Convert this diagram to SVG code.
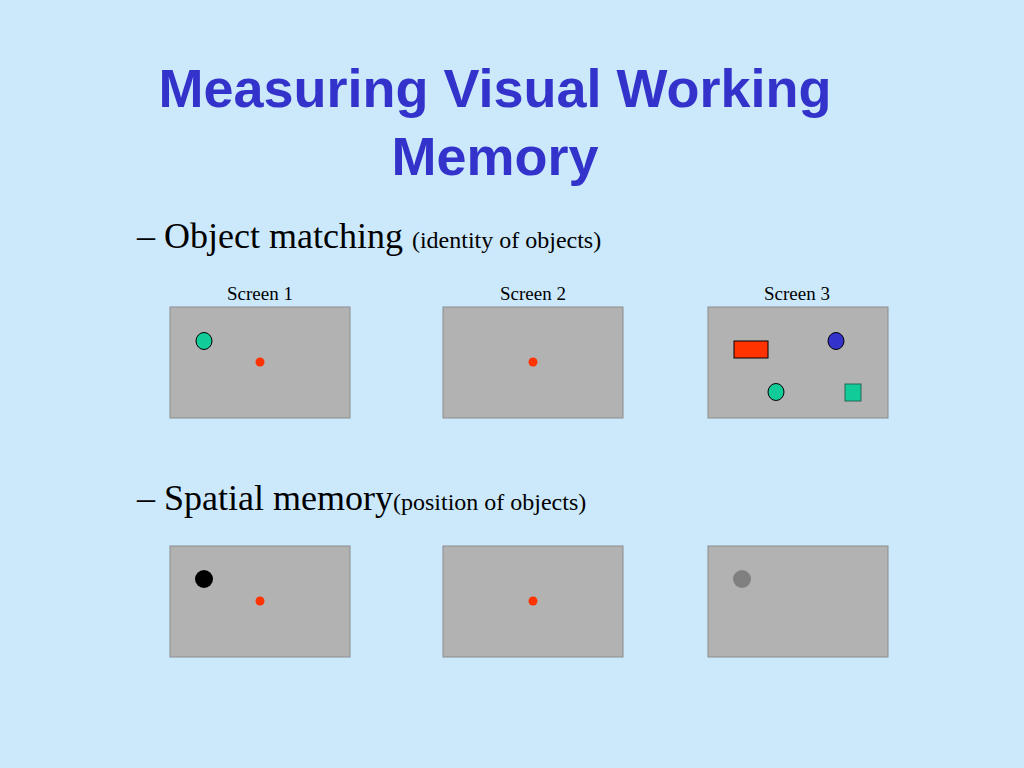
<svg xmlns="http://www.w3.org/2000/svg" width="1024" height="768" viewBox="0 0 1024 768">
<style>
.scr{fill:#b2b2b2;stroke:#8c8c8c;stroke-width:1}
.t{font-family:"Liberation Serif",serif;fill:#000}
.dot{fill:#ff3300}
</style>
<rect width="1024" height="768" fill="#cce9fc"/>
<text x="495" y="107" text-anchor="middle" font-family="Liberation Sans,sans-serif" font-weight="bold" font-size="54" fill="#3333cc">Measuring Visual Working</text>
<text x="495" y="175" text-anchor="middle" font-family="Liberation Sans,sans-serif" font-weight="bold" font-size="54" fill="#3333cc">Memory</text>
<text class="t" x="137" y="248" font-size="36">– Object matching <tspan font-size="24">(identity of objects)</tspan></text>
<text class="t" x="137" y="510" font-size="36">– Spatial memory<tspan font-size="24">(position of objects)</tspan></text>
<text class="t" x="260" y="300" font-size="19" text-anchor="middle">Screen 1</text>
<text class="t" x="533" y="300" font-size="19" text-anchor="middle">Screen 2</text>
<text class="t" x="797" y="300" font-size="19" text-anchor="middle">Screen 3</text>
<g id="s1"><rect class="scr" x="170" y="307" width="180" height="111"/><ellipse cx="204" cy="341" rx="8" ry="8.5" fill="#11cc99" stroke="#000"/><circle class="dot" cx="260" cy="362" r="4.5"/></g>
<g id="s2"><rect class="scr" x="443" y="307" width="180" height="111"/><circle class="dot" cx="533" cy="362" r="4.5"/></g>
<g id="s3"><rect class="scr" x="708" y="307" width="180" height="111"/><rect x="734" y="341" width="34" height="17" fill="#ff3300" stroke="#000"/><ellipse cx="836" cy="341" rx="8" ry="8.5" fill="#3333cc" stroke="#000"/><ellipse cx="776" cy="392" rx="8" ry="8.5" fill="#11cc99" stroke="#000"/><rect x="845" y="384" width="16" height="17" fill="#11cc99" stroke="#226655"/></g>
<g id="s4"><rect class="scr" x="170" y="546" width="180" height="111"/><circle cx="204" cy="579" r="9" fill="#000"/><circle class="dot" cx="260" cy="601" r="4.5"/></g>
<g id="s5"><rect class="scr" x="443" y="546" width="180" height="111"/><circle class="dot" cx="533" cy="601" r="4.5"/></g>
<g id="s6"><rect class="scr" x="708" y="546" width="180" height="111"/><circle cx="742" cy="579" r="9" fill="#808080"/></g>
<g id="connectors"/>
</svg>
